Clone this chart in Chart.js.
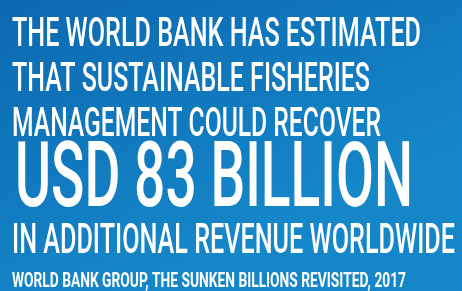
<!DOCTYPE html>
<html>
<head>
<meta charset="utf-8">
<script src="https://cdn.jsdelivr.net/npm/chart.js@4"></script>
<style>
  html, body { margin: 0; padding: 0; background: #0d6bb3; }
  #wrap { width: 462px; height: 291px; }
</style>
</head>
<body>
<div id="wrap"><canvas id="myChart" width="462" height="291"></canvas></div>
<script>
// headline figure
const amount = [83];
const unit = ["USD", "BILLION"];
const introLines = [
    "THE WORLD BANK HAS ESTIMATED",
    "THAT SUSTAINABLE FISHERIES",
    "MANAGEMENT COULD RECOVER",
];
const outroLines = ["IN ADDITIONAL REVENUE WORLDWIDE"];
const sourceLines = ["WORLD BANK GROUP, THE SUNKEN BILLIONS REVISITED, 2017"];

document.addEventListener("DOMContentLoaded", function () {
    const ctx = document.getElementById("myChart");

    // one entry per printed line: baseline y, target width, font size
    const rows = [
        { text: introLines[0], y: 46, w: 409, size: 41, weight: 500 },
        { text: introLines[1], y: 91, w: 358, size: 41, weight: 500 },
        { text: introLines[2], y: 136, w: 369, size: 41, weight: 500 },
        { text: unit[0] + " " + amount[0] + " " + unit[1], y: 206, w: 398, size: 90, weight: 500, x: 15 },
        { text: outroLines[0], y: 253, w: 443, size: 42, weight: 500 },
        { text: sourceLines[0], y: 287, w: 394, size: 20, weight: 700 },
    ];

    const infographic = {
        id: "infographic",
        beforeDraw(chart) {
            const c = chart.ctx;
            const g = c.createLinearGradient(0, 0, 120, chart.height);
            g.addColorStop(0, "#0c68b1");
            g.addColorStop(1, "#1587c9");
            c.save();
            c.fillStyle = g;
            c.fillRect(0, 0, chart.width, chart.height);
            c.restore();
        },
        afterDraw(chart) {
            const c = chart.ctx;
            rows.forEach(function (r) {
                c.save();
                c.font = r.weight + " " + r.size + "px Roboto";
                c.fillStyle = "#ffffff";
                c.textBaseline = "alphabetic";
                const m = c.measureText(r.text).width;
                c.translate(r.x || 12, r.y);
                c.scale(r.w / m, 1);
                c.fillText(r.text, 0, 0);
                c.restore();
            });
        },
    };

    new Chart(ctx, {
        type: "bar",
        data: {
            labels: ["USD"],
            datasets: [{ label: "Revenue", data: amount, backgroundColor: "rgba(0,0,0,0)" }],
        },
        options: {
            responsive: false,
            animation: false,
            events: [],
            layout: { padding: 0 },
            scales: { x: { display: false }, y: { display: false, max: 1000 } },
            plugins: { legend: { display: false }, tooltip: { enabled: false } },
        },
        plugins: [infographic],
    });
});
</script>
</body>
</html>
